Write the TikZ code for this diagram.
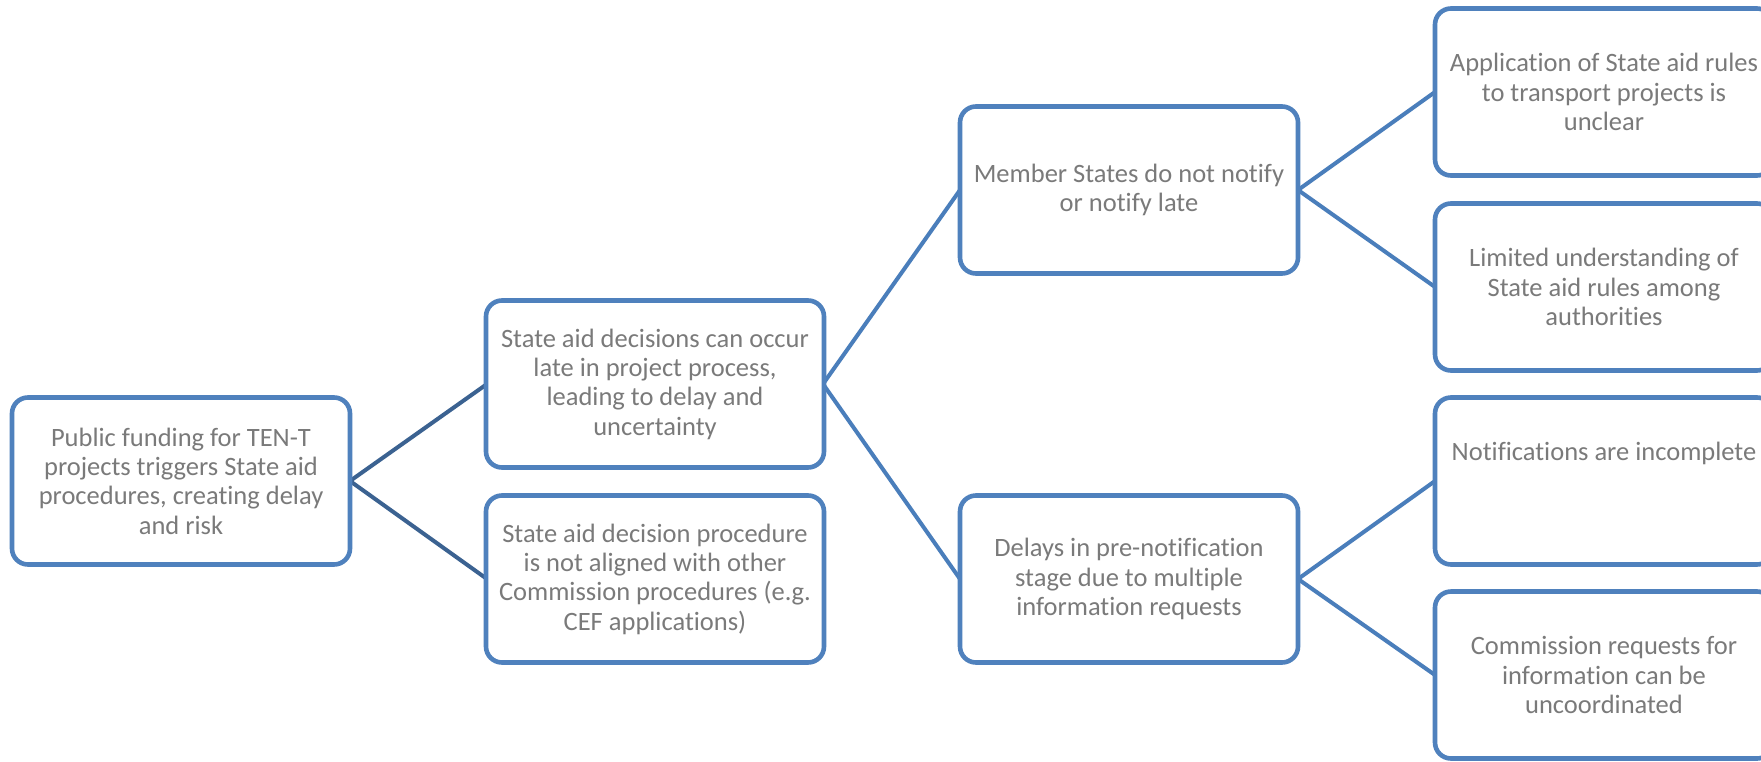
\documentclass[tikz,border=0pt]{standalone}
\usepackage{fontspec}
\setmainfont[Ligatures=NoCommon]{Carlito}
\definecolor{boxblue}{HTML}{4F81BD}
\definecolor{lineblue}{HTML}{4A7EBB}
\definecolor{darkline}{HTML}{3B6291}
\definecolor{txtgray}{HTML}{7A7A7A}
\begin{document}
\begin{tikzpicture}[x=1pt,y=-1pt,
  box/.style={draw=boxblue, line width=4.6pt, rounded corners=16pt, fill=white,
    minimum width=338pt, minimum height=167pt, inner sep=0pt,
    align=center, text=txtgray, font=\fontsize{26.5}{29.3}\selectfont},
  conn/.style={draw=lineblue, line width=4pt},
  rootconn/.style={draw=darkline, line width=4pt}]
\useasboundingbox (0,0) rectangle (1761,761);
\clip (0,0) rectangle (1761,761);
\fill[white] (0,0) rectangle (1761,761);
% connectors first (behind boxes)
\coordinate (rR) at (350,481);
\coordinate (a1L) at (487,384);
\coordinate (a2L) at (487,579);
\coordinate (a1R) at (823,384);
\coordinate (b1L) at (960,190);
\coordinate (b2L) at (960,579);
\coordinate (b1R) at (1298,190);
\coordinate (b2R) at (1298,579);
\coordinate (c1L) at (1435,92);
\coordinate (c2L) at (1435,287);
\coordinate (c3L) at (1435,481);
\coordinate (c4L) at (1435,675);
\draw[rootconn] (rR) -- (a1L);
\draw[rootconn] (rR) -- (a2L);
\draw[conn] (a1R) -- (b1L);
\draw[conn] (a1R) -- (b2L);
\draw[conn] (b1R) -- (c1L);
\draw[conn] (b1R) -- (c2L);
\draw[conn] (b2R) -- (c3L);
\draw[conn] (b2R) -- (c4L);
% boxes
\node[box] (root) at (181,481) {Public funding for TEN-T\\projects triggers State aid\\procedures, creating delay\\and risk};
\node[box] (a1) at (655,384) {State aid decisions can occur\\late in project process,\\leading to delay and\\uncertainty};
\node[box] (a2) at (655,579) {State aid decision procedure\\is not aligned with other\\Commission procedures (e.g.\\CEF applications)};
\node[box] (b1) at (1129,190) {Member States do not notify\\or notify late};
\node[box] (b2) at (1129,579) {Delays in pre-notification\\stage due to multiple\\information requests};
\node[box] (c1) at (1604,92) {Application of State aid rules\\to transport projects is\\unclear};
\node[box] (c2) at (1604,287) {Limited understanding of\\State aid rules among\\authorities};
\node[box] (c3) at (1604,481) {Notifications are incomplete\\[29.3pt]\mbox{}};
\node[box] (c4) at (1604,675) {Commission requests for\\information can be\\uncoordinated};
\end{tikzpicture}
\end{document}
